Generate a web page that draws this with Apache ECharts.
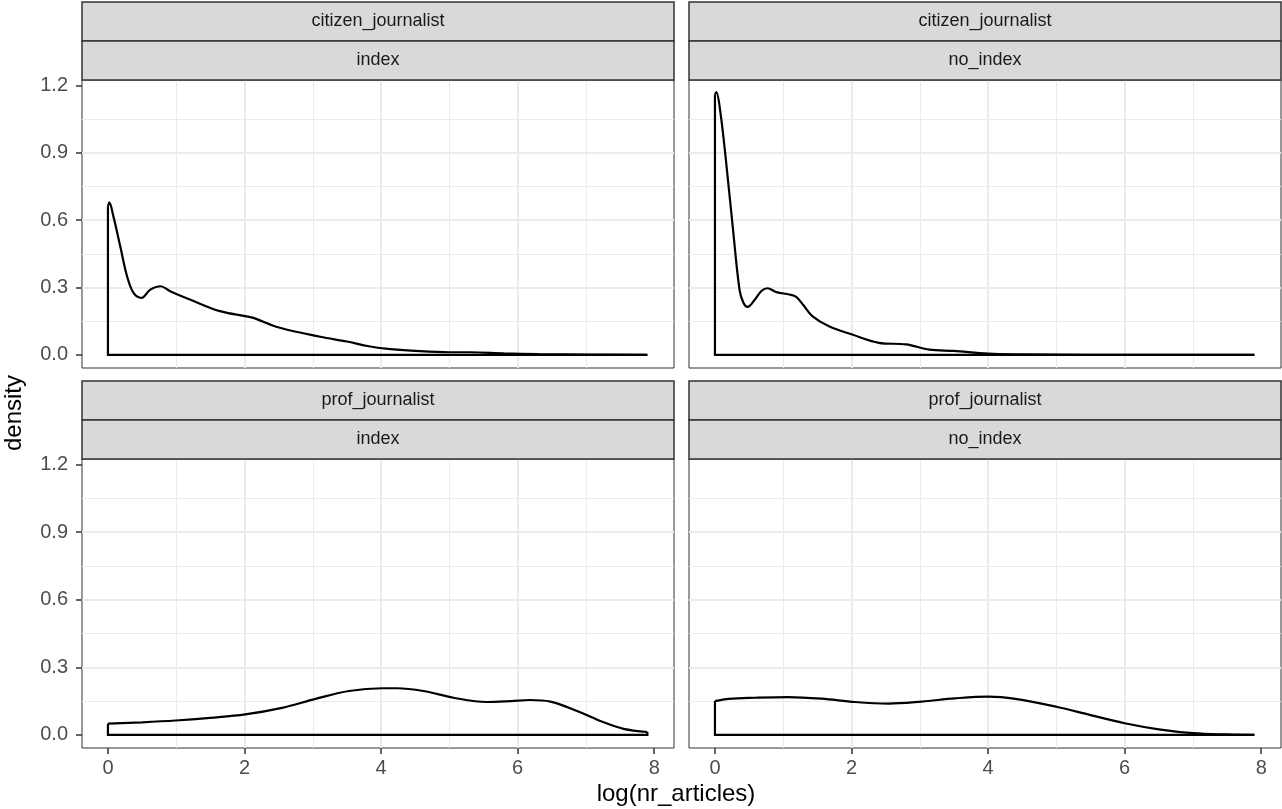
<!DOCTYPE html>
<html>

<head>
    <meta charset="utf-8">
    <script src="https://cdn.jsdelivr.net/npm/echarts@6/dist/echarts.min.js"></script>
    <title>density facets</title>
    <style type="text/css">
        html, body { margin: 0; padding: 0; background: #ffffff; }
    </style>
</head>

<body>
    <div id="main" style="width:1282px; height:809px;"></div>
    <script type="text/javascript">
        // facet labels
        var rowLabels = ['citizen_journalist', 'prof_journalist'];
        var colLabels = ['index', 'no_index'];

        // tick labels
        var xTicks = [0, 2, 4, 6, 8];
        var yTicks = [0, 0.3, 0.6, 0.9, 1.2];

        // citizen_journalist / index
        var citIdxX = [0, 0.02, 0.08, 0.18, 0.28, 0.375, 0.49, 0.62, 0.77, 0.91, 1.2, 1.64, 2.03, 2.13, 2.52, 3.11, 3.5, 3.8, 4.1, 4.5, 5.0, 5.3, 5.8, 6.3, 7.0, 7.9];
        var citIdxY = [0.66, 0.679, 0.617, 0.484, 0.35, 0.276, 0.254, 0.291, 0.306, 0.284, 0.247, 0.195, 0.172, 0.165, 0.121, 0.081, 0.06, 0.04, 0.027, 0.018, 0.012, 0.012, 0.007, 0.004, 0.002, 0.001];

        // citizen_journalist / no_index
        var citNoX = [0, 0.02, 0.08, 0.16, 0.26, 0.36, 0.42, 0.48, 0.58, 0.68, 0.77, 0.9, 1.09, 1.19, 1.3, 1.43, 1.67, 2.01, 2.4, 2.8, 3.14, 3.5, 4.0, 4.5, 5.5, 7.9];
        var citNoY = [1.16, 1.17, 1.08, 0.869, 0.572, 0.29, 0.23, 0.214, 0.245, 0.285, 0.297, 0.28, 0.269, 0.259, 0.22, 0.172, 0.128, 0.091, 0.054, 0.047, 0.024, 0.018, 0.006, 0.003, 0.001, 0];

        // prof_journalist / index
        var profIdxX = [0, 0.5, 0.99, 1.5, 2.01, 2.55, 3.04, 3.53, 4.02, 4.23, 4.62, 5.06, 5.55, 5.9, 6.18, 6.48, 6.87, 7.26, 7.55, 7.9];
        var profIdxY = [0.05, 0.056, 0.064, 0.076, 0.091, 0.12, 0.16, 0.195, 0.207, 0.207, 0.195, 0.165, 0.146, 0.15, 0.155, 0.148, 0.106, 0.056, 0.027, 0.013];

        // prof_journalist / no_index
        var profNoX = [0, 0.2, 0.59, 1.07, 1.56, 2.05, 2.54, 3.03, 3.51, 4.0, 4.4, 5.0, 5.5, 6.0, 6.5, 7.0, 7.5, 7.9];
        var profNoY = [0.15, 0.16, 0.165, 0.168, 0.161, 0.146, 0.139, 0.148, 0.162, 0.17, 0.16, 0.125, 0.088, 0.052, 0.025, 0.008, 0.002, 0];

        var panelsX = [citIdxX, citNoX, profIdxX, profNoX];
        var panelsY = [citIdxY, citNoY, profIdxY, profNoY];

        // layout (pixels)
        var panelLeft = [82, 689];
        var panelTop = [80, 459];
        var panelW = 592;
        var panelH = [288, 289];
        var stripH = 39;
        var font = 'Liberation Sans, Arial, sans-serif';

        var myChart = echarts.init(document.getElementById('main'));

        var grids = [], xAxes = [], yAxes = [], series = [], graphics = [];

        for (var i = 0; i < 4; i++)
        {
            var row = Math.floor(i / 2), col = i % 2;
            grids.push({
                left: panelLeft[col], top: panelTop[row], width: panelW, height: panelH[row],
                show: true, backgroundColor: '#ffffff', borderColor: '#333333', borderWidth: 1,
                containLabel: false, outerBoundsMode: 'none'
            });
            xAxes.push({
                type: 'value', gridIndex: i, position: 'bottom', min: -0.38, max: 8.29, splitNumber: 5,
                axisLine: { show: false, onZero: false },
                axisTick: { show: row === 1, length: 6, customValues: xTicks, lineStyle: { color: '#333333', width: 1.5 } },
                axisLabel: { show: row === 1, customValues: xTicks, color: '#4d4d4d', fontSize: 20, fontFamily: font, margin: 10 },
                splitLine: { show: true, showMinLine: false, showMaxLine: false, lineStyle: { color: '#ebebeb', width: 2 } },
                minorTick: { show: false, splitNumber: 2 },
                minorSplitLine: { show: true, lineStyle: { color: '#ebebeb', width: 1 } }
            });
            yAxes.push({
                type: 'value', gridIndex: i, position: 'left', min: -0.058, max: 1.224, splitNumber: 5,
                axisLine: { show: false, onZero: false },
                axisTick: { show: col === 0, length: 6, customValues: yTicks, lineStyle: { color: '#333333', width: 1.5 } },
                axisLabel: {
                    show: col === 0, customValues: yTicks, color: '#4d4d4d', fontSize: 20, fontFamily: font, margin: 14,
                    formatter: function (v) { return Number(v).toFixed(1); }
                },
                splitLine: { show: true, showMinLine: false, showMaxLine: false, lineStyle: { color: '#ebebeb', width: 2 } },
                minorTick: { show: false, splitNumber: 2 },
                minorSplitLine: { show: true, lineStyle: { color: '#ebebeb', width: 1 } }
            });

            var xs = panelsX[i], ys = panelsY[i];
            var curve = [];
            for (var k = 0; k < xs.length; k++) curve.push([xs[k], ys[k]]);
            var lastIdx = xs.length - 1;
            var outline = [[xs[0], ys[0]], [xs[0], 0], [xs[lastIdx], 0], [xs[lastIdx], ys[lastIdx]]];

            series.push({
                type: 'line', xAxisIndex: i, yAxisIndex: i, data: curve, smooth: 0.35,
                symbol: 'none', animation: false, z: 5,
                lineStyle: { color: '#000000', width: 2.2 }
            });
            series.push({
                type: 'line', xAxisIndex: i, yAxisIndex: i, data: outline, smooth: false,
                symbol: 'none', animation: false, z: 5,
                lineStyle: { color: '#000000', width: 2.2, join: 'miter' }
            });

            // strips
            var labels = [rowLabels[row], colLabels[col]];
            for (var s = 0; s < 2; s++)
            {
                var stripTop = panelTop[row] - (2 - s) * stripH;
                graphics.push({
                    type: 'rect', x: panelLeft[col], y: stripTop, z: 10,
                    shape: { x: 0, y: 0, width: panelW, height: stripH },
                    style: { fill: '#d9d9d9', stroke: '#333333', lineWidth: 1.5 }
                });
                graphics.push({
                    type: 'text', x: panelLeft[col] + panelW / 2, y: stripTop + stripH / 2, z: 11,
                    style: {
                        text: labels[s], fill: '#1a1a1a', fontSize: 18, fontFamily: font,
                        align: 'center', verticalAlign: 'middle'
                    }
                });
            }
        }

        // axis titles
        graphics.push({
            type: 'text', x: 676, y: 794, z: 11,
            style: { text: 'log(nr_articles)', fill: '#000000', fontSize: 24, fontFamily: font, align: 'center', verticalAlign: 'middle' }
        });
        graphics.push({
            type: 'text', x: 14, y: 413, rotation: Math.PI / 2, z: 11,
            style: { text: 'density', fill: '#000000', fontSize: 24, fontFamily: font, align: 'center', verticalAlign: 'middle' }
        });

        var option = {
            backgroundColor: '#ffffff',
            animation: false,
            grid: grids,
            xAxis: xAxes,
            yAxis: yAxes,
            series: series,
            graphic: { elements: graphics }
        };
        myChart.setOption(option);
    </script>
</body>

</html>
